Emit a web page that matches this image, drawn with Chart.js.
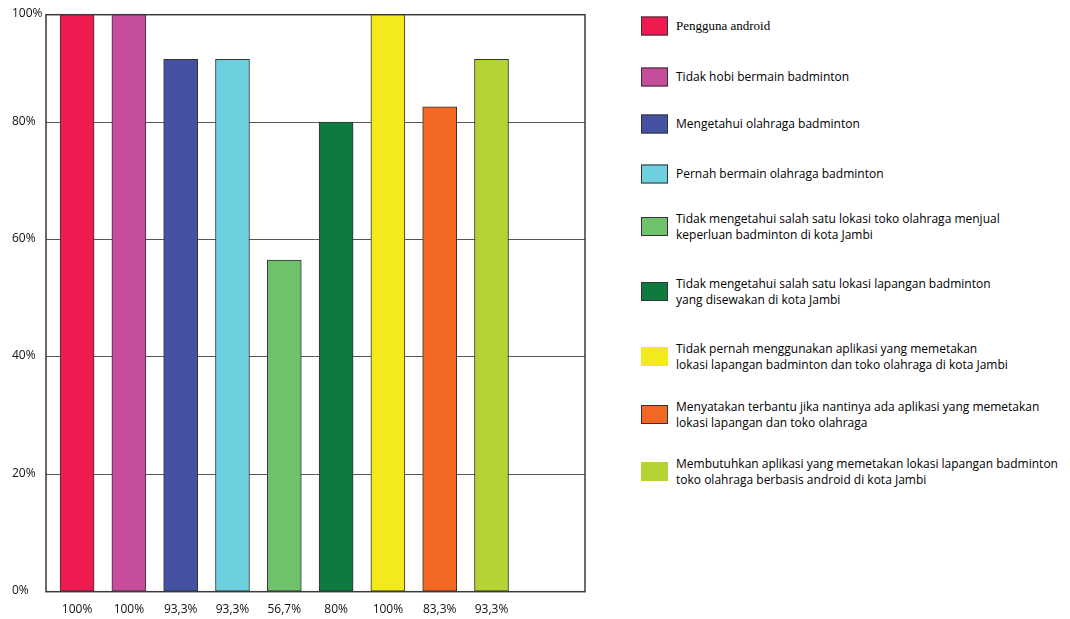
<!DOCTYPE html>
<html>
<head>
<meta charset="utf-8">
<script src="https://cdn.jsdelivr.net/npm/chart.js@4.4.1/dist/chart.umd.min.js"></script>
<style>
body { margin: 0; background: #fff; width: 1070px; height: 619px; overflow: hidden; position: relative; font-family: "Open Sans", sans-serif; }
#wrap { position: absolute; left: 0; top: 0; width: 600px; height: 619px; }
#legend { position: absolute; left: 641px; top: 0; }
.item { position: absolute; left: 0; display: flex; align-items: center; white-space: nowrap; transform: translateY(-50%); }
.box { width: 27px; height: 19px; box-sizing: border-box; margin-right: 8px; flex: none; }
.txt { font-size: 12px; line-height: 16px; color: #000; }
</style>
</head>
<body>
<div id="wrap"><canvas id="bar" width="600" height="619"></canvas></div>
<div id="legend"></div>
<script>
var categories = [
    'Pengguna android',
    'Tidak hobi bermain badminton',
    'Mengetahui olahraga badminton',
    'Pernah bermain olahraga badminton',
    'Tidak mengetahui salah satu lokasi toko olahraga menjual\nkeperluan badminton di kota Jambi',
    'Tidak mengetahui salah satu lokasi lapangan badminton\nyang disewakan di kota Jambi',
    'Tidak pernah menggunakan aplikasi yang memetakan\nlokasi lapangan badminton dan toko olahraga di kota Jambi',
    'Menyatakan terbantu jika nantinya ada aplikasi yang memetakan\nlokasi lapangan dan toko olahraga',
    'Membutuhkan aplikasi yang memetakan lokasi lapangan badminton\ntoko olahraga berbasis android di kota Jambi'
];
// bar heights as drawn in the picture
var values = [100, 100, 90.7, 90.7, 56.5, 80, 100, 82.6, 90.7];
var valueLabels = ['100%', '100%', '93,3%', '93,3%', '56,7%', '80%', '100%', '83,3%', '93,3%'];
var yTicks = [0, 20, 40, 60, 80, 98.3];
var yTickLabels = ['0%', '20%', '40%', '60%', '80%', '100%'];

var colors = ['#ee1b50', '#c54d9c', '#4552a4', '#6ecfdf', '#6fc26b', '#0f7a3f', '#f2ea1c', '#f26722', '#b4d334'];
var legendBorder = [true, true, true, true, true, true, false, true, false];
var legendTop = [16, 67, 114, 164, 217, 282, 347, 405, 462];

var points = values.map(function (v, i) { return {x: i + 1, y: v}; });

var framePlugin = {
    id: 'frame',
    afterDraw: function (chart) {
        var a = chart.chartArea, ctx = chart.ctx;
        ctx.save();
        ctx.strokeStyle = '#3a3a3a';
        ctx.lineWidth = 1.5;
        ctx.strokeRect(a.left, a.top, a.right - a.left, a.bottom - a.top);
        ctx.restore();
    }
};

var ctx = document.getElementById('bar').getContext('2d');
var barChart = new Chart(ctx, {
    type: 'bar',
    data: {
        datasets: [{
            data: points,
            backgroundColor: colors,
            borderColor: '#333',
            borderWidth: 1,
            borderSkipped: false,
            barThickness: 34,
            clip: 0
        }]
    },
    options: {
        responsive: false,
        animation: false,
        layout: {padding: {left: 12, top: 14.7, right: 15, bottom: 0}},
        plugins: {legend: {display: false}, tooltip: {enabled: false}},
        scales: {
            x: {
                type: 'linear',
                offset: false,
                min: 0.40,
                max: 10.805,
                afterBuildTicks: function (scale) {
                    scale.ticks = valueLabels.map(function (l, i) { return {value: i + 1}; });
                },
                afterFit: function (scale) { scale.height = 27.3; },
                grid: {display: false, drawTicks: false, offset: false},
                border: {display: false},
                ticks: {
                    padding: 11,
                    color: '#111',
                    font: {family: 'Open Sans', size: 12},
                    maxRotation: 0,
                    autoSkip: false,
                    callback: function (v) { return valueLabels[v - 1]; }
                }
            },
            y: {
                min: 0,
                max: yTicks[yTicks.length - 1],
                afterBuildTicks: function (scale) {
                    scale.ticks = yTicks.map(function (v) { return {value: v}; });
                },
                afterFit: function (scale) { scale.width = 34; },
                grid: {color: '#555', lineWidth: 1, drawTicks: false},
                border: {display: false},
                ticks: {
                    crossAlign: 'far',
                    labelOffset: -1,
                    color: '#111',
                    font: {family: 'Open Sans', size: 12},
                    callback: function (v) { return yTickLabels[yTicks.indexOf(v)]; }
                }
            }
        }
    },
    plugins: [framePlugin]
});

var legend = document.getElementById('legend');
categories.forEach(function (c, i) {
    var item = document.createElement('div');
    item.className = 'item';
    item.style.top = (legendTop[i] + 9.5) + 'px';
    var box = document.createElement('div');
    box.className = 'box';
    box.style.background = colors[i];
    if (legendBorder[i]) box.style.border = '1px solid #333';
    var txt = document.createElement('div');
    txt.className = 'txt';
    if (i === 0) { txt.style.fontFamily = '"Liberation Serif", serif'; txt.style.fontSize = '13px'; }
    txt.innerHTML = c.split('\n').join('<br>');
    item.appendChild(box);
    item.appendChild(txt);
    legend.appendChild(item);
});
</script>
</body>
</html>
